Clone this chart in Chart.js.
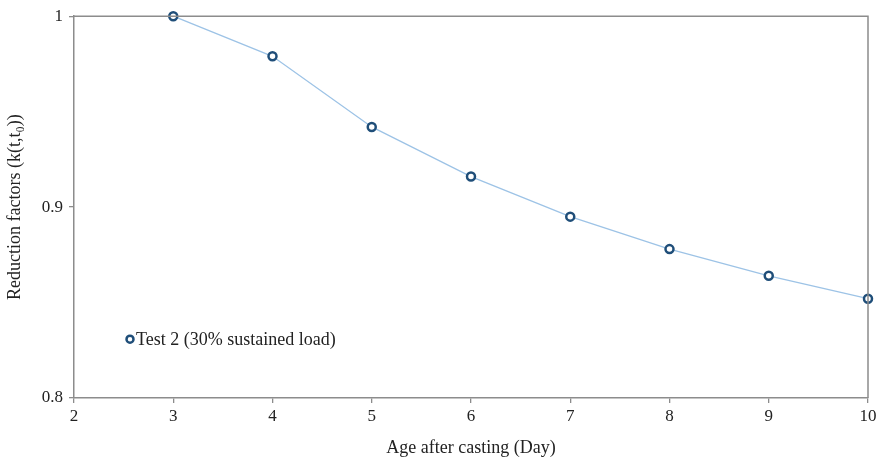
<!DOCTYPE html>
<html lang="en">
<head>
    <meta charset="UTF-8">
    <title>Reduction factors</title>
    <script src="https://cdn.jsdelivr.net/npm/chart.js"></script>
    <style>
        body { margin: 0; padding: 0; background: white; }
        .wrap { width: 880px; height: 463px; }
    </style>
</head>
<body>
    <div class="wrap"><canvas id="chart"></canvas></div>

    <script>
        // data
        const days = [3, 4, 5, 6, 7, 8, 9, 10];
        const factors = [1.0, 0.979, 0.942, 0.916, 0.895, 0.878, 0.864, 0.852];
        const seriesLabel = "Test 2 (30% sustained load)";
        const xTicks = [2, 3, 4, 5, 6, 7, 8, 9, 10];
        const yTicks = [0.8, 0.9, 1];

        const axisGray = "#8c8c8c";
        const font = "'Liberation Serif', 'Times New Roman', serif";

        // frame around plot + legend inside the plot area
        const framePlugin = {
            id: "frame",
            afterDraw(chart) {
                const ctx = chart.ctx, a = chart.chartArea;
                ctx.save();
                ctx.strokeStyle = axisGray;
                ctx.lineWidth = 1.5;
                ctx.beginPath();
                ctx.moveTo(a.left, a.top);
                ctx.lineTo(a.right, a.top);
                ctx.lineTo(a.right, a.bottom);
                ctx.stroke();

                // legend
                const lx = a.left + 56, ly = a.top + 323;
                ctx.beginPath();
                ctx.arc(lx, ly, 3.5, 0, Math.PI * 2);
                ctx.fillStyle = "white";
                ctx.fill();
                ctx.lineWidth = 2.5;
                ctx.strokeStyle = "#1f4e79";
                ctx.stroke();
                ctx.fillStyle = "#222";
                ctx.font = "18px " + font;
                ctx.textBaseline = "middle";
                ctx.fillText(seriesLabel, lx + 6, ly + 1);
                ctx.restore();
            }
        };

        new Chart(document.getElementById("chart"), {
            type: "line",
            data: {
                datasets: [{
                    label: seriesLabel,
                    data: days.map((d, i) => ({ x: d, y: factors[i] })),
                    borderColor: "#9dc3e6",
                    borderWidth: 1.3,
                    tension: 0,
                    pointRadius: 4,
                    pointBorderWidth: 2.5,
                    pointBorderColor: "#1f4e79",
                    pointBackgroundColor: "white",
                    clip: false
                }]
            },
            options: {
                responsive: true,
                maintainAspectRatio: false,
                animation: false,
                layout: { padding: { top: 14, right: 12, left: 0, bottom: 0 } },
                plugins: { legend: { display: false }, tooltip: { enabled: false } },
                scales: {
                    x: {
                        type: "linear",
                        min: 2, max: 10,
                        afterBuildTicks: s => { s.ticks = xTicks.map(v => ({ value: v })); },
                        afterFit: s => { s.height = 65; },
                        grid: { display: true, drawOnChartArea: false, color: axisGray, tickLength: 5, lineWidth: 1.3 },
                        border: { color: axisGray, width: 1.5 },
                        ticks: { color: "#222", font: { family: font, size: 17 }, padding: 3 },
                        title: { display: true, text: "Age after casting (Day)", color: "#222", font: { family: font, size: 18 }, padding: { top: 4 } }
                    },
                    y: {
                        min: 0.8, max: 1,
                        afterBuildTicks: s => { s.ticks = yTicks.map(v => ({ value: v })); },
                        afterFit: s => { s.width = 74; },
                        grid: { display: true, drawOnChartArea: false, color: axisGray, tickLength: 5, lineWidth: 1.3 },
                        border: { color: axisGray, width: 1.5 },
                        ticks: { color: "#222", font: { family: font, size: 17 }, padding: 6, callback: v => String(v) },
                        title: { display: true, text: "Reduction factors (k(t,t\u2080))", color: "#222", font: { family: font, size: 18 }, padding: { bottom: 2 } }
                    }
                }
            },
            plugins: [framePlugin]
        });
    </script>
</body>
</html>
